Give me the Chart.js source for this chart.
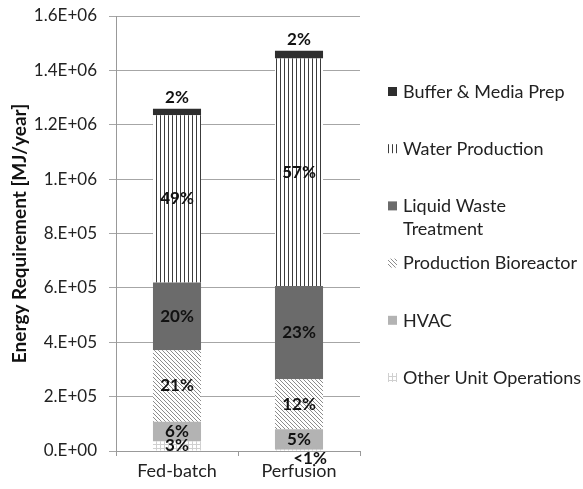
<!DOCTYPE html>
<html>
<head>
<meta charset="utf-8">
<script src="https://cdn.jsdelivr.net/npm/chart.js@4.4.1/dist/chart.umd.min.js"></script>
<style>
  html, body { margin: 0; padding: 0; background: #fff; }
  canvas { display: block; }
</style>
</head>
<body>
<canvas id="grafico" width="583" height="489"></canvas>
<script>
// dados (MJ/ano)
const categories = ['Fed-batch', 'Perfusion'];
const otherUnitOps = [35000, 5000];
const hvac = [73000, 75000];
const prodBioreactor = [263000, 184000];
const liquidWaste = [249000, 343000];
const waterProduction = [615000, 837000];
const bufferMediaPrep = [24000, 28000];

// rótulos percentuais de cada segmento
const pctOther = ['3%', '<1%'];
const pctHvac = ['6%', '5%'];
const pctBioreactor = ['21%', '12%'];
const pctLiquidWaste = ['20%', '23%'];
const pctWater = ['49%', '57%'];
const pctBuffer = ['2%', '2%'];

const yTickLabels = ['0.E+00', '2.E+05', '4.E+05', '6.E+05', '8.E+05', '1.E+06', '1.2E+06', '1.4E+06', '1.6E+06'];

function criarPadrao(tipo) {
    const s = 4;
    const c = document.createElement('canvas');
    c.width = s; c.height = s;
    const p = c.getContext('2d');
    p.fillStyle = '#fff';
    p.fillRect(0, 0, s, s);
    if (tipo === 'vertical') {
        p.fillStyle = '#3c3c3c';
        p.fillRect(0, 0, 1, s);
    } else if (tipo === 'diagonal') {
        p.strokeStyle = '#8c8c8c';
        p.lineWidth = 1;
        [-s, 0, s].forEach(off => {
            p.beginPath();
            p.moveTo(off, 0);
            p.lineTo(off + s, s);
            p.stroke();
        });
    } else if (tipo === 'grade') {
        p.fillStyle = '#d0d0d0';
        p.fillRect(0, 0, 1, s);
        p.fillRect(0, 0, s, 1);
    }
    return p.createPattern(c, 'repeat');
}

const fonte = 'Lato, "Open Sans", sans-serif';

const rotulosPlugin = {
    id: 'rotulosPct',
    afterDatasetsDraw(chart) {
        const ctx = chart.ctx;
        ctx.save();
        ctx.font = 'bold 17px ' + fonte;
        ctx.fillStyle = '#111';
        ctx.textAlign = 'center';
        ctx.textBaseline = 'middle';
        chart.data.datasets.forEach((ds, di) => {
            chart.getDatasetMeta(di).data.forEach((bar, i) => {
                const txt = ds.pct[i];
                let x = bar.x;
                let y = (bar.y + bar.base) / 2;
                if (ds.acima) y = bar.y - 11;
                else if (txt.startsWith('<')) { y = bar.base + 8; x += 11; }
                ctx.fillText(txt, x, y);
            });
        });
        ctx.restore();
    }
};

const legendaPlugin = {
    id: 'legendaLateral',
    afterDraw(chart) {
        const ctx = chart.ctx;
        ctx.save();
        ctx.font = '18px ' + fonte;
        ctx.textBaseline = 'middle';
        ctx.textAlign = 'left';
        const itens = chart.data.datasets.slice().reverse();
        itens.forEach((ds, k) => {
            const y = 92 + k * 57.2;
            ctx.fillStyle = ds.backgroundColor;
            ctx.fillRect(388, y - 5, 9, 9);
            ctx.fillStyle = '#222';
            ds.label.split('\n').forEach((linha, j) => {
                ctx.fillText(linha, 403, y + j * 23);
            });
        });
        ctx.restore();
    }
};

const ctx = document.getElementById('grafico').getContext('2d');

new Chart(ctx, {
    type: 'bar',
    data: {
        labels: categories,
        datasets: [
            { label: 'Other Unit Operations', data: otherUnitOps, pct: pctOther, backgroundColor: criarPadrao('grade') },
            { label: 'HVAC', data: hvac, pct: pctHvac, backgroundColor: '#b3b3b3' },
            { label: 'Production Bioreactor', data: prodBioreactor, pct: pctBioreactor, backgroundColor: criarPadrao('diagonal') },
            { label: 'Liquid Waste\nTreatment', data: liquidWaste, pct: pctLiquidWaste, backgroundColor: '#6b6b6b' },
            { label: 'Water Production', data: waterProduction, pct: pctWater, backgroundColor: criarPadrao('vertical') },
            { label: 'Buffer & Media Prep', data: bufferMediaPrep, pct: pctBuffer, acima: true, backgroundColor: '#2e2e2e' }
        ]
    },
    options: {
        responsive: false,
        animation: false,
        layout: { padding: { top: 16, right: 223, left: 0, bottom: 0 } },
        datasets: { bar: { barPercentage: 0.394, categoryPercentage: 1 } },
        scales: {
            x: {
                stacked: true,
                afterFit: s => { s.height = 38; },
                grid: { drawOnChartArea: false, offset: true, tickLength: 5, color: '#999' },
                border: { color: '#999' },
                ticks: { color: '#222', font: { family: fonte, size: 18 }, padding: 4 }
            },
            y: {
                stacked: true,
                min: 0,
                max: 1600000,
                afterFit: s => { s.width = 116; s.paddingTop = 0; s.paddingBottom = 0; },
                ticks: {
                    stepSize: 200000,
                    color: '#222',
                    font: { family: fonte, size: 17 },
                    padding: 12,
                    callback: (v, i) => yTickLabels[i]
                },
                grid: { color: '#a6a6a6', tickLength: 7 },
                border: { color: '#999' },
                title: {
                    display: true,
                    text: 'Energy Requirement [MJ/year]',
                    color: '#111',
                    font: { family: fonte, size: 19, weight: 'bold' },
                    padding: { top: 8, bottom: 0 }
                }
            }
        },
        plugins: {
            legend: { display: false },
            tooltip: { enabled: false }
        }
    },
    plugins: [rotulosPlugin, legendaPlugin]
});
</script>
</body>
</html>
